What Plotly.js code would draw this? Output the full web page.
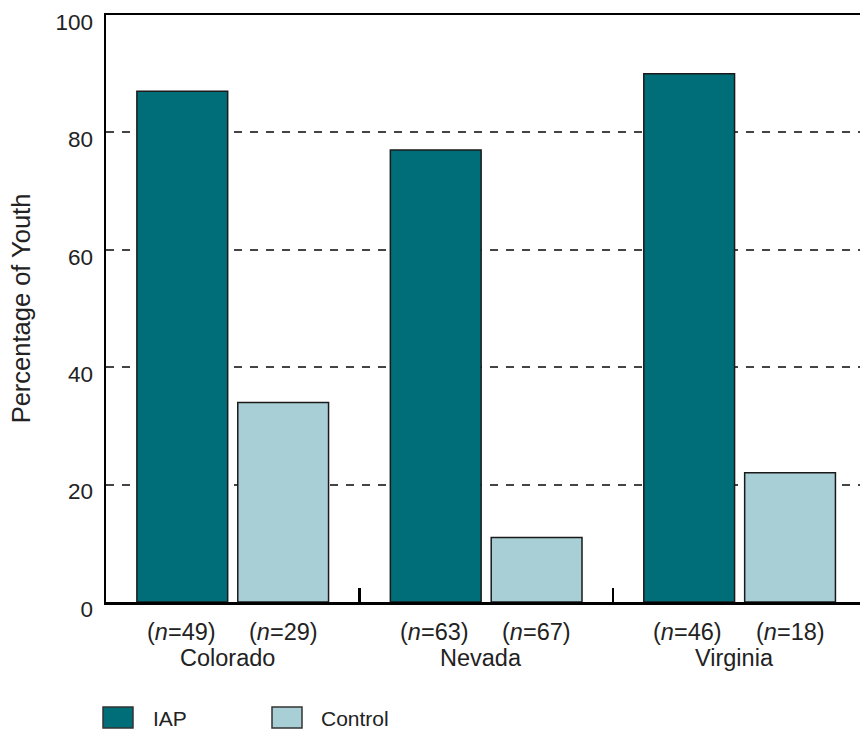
<!DOCTYPE html>
<html>
<head>
<meta charset="utf-8">
<script src="https://cdn.plot.ly/plotly-3.0.1.min.js"></script>
<style>html,body{margin:0;padding:0;background:#fff}#chart{width:860px;height:730px}</style>
</head>
<body>
<div id="chart"></div>
<script>
// ---- data ----
const states = ["Colorado", "Nevada", "Virginia"];
const iapValues = [87, 77, 90];
const controlValues = [34, 11, 22];
const iapN = [49, 63, 46];
const controlN = [29, 67, 18];
const seriesNames = ["IAP", "Control"];
const yTickVals = [0, 20, 40, 60, 80, 100];

// ---- styling / layout ----
const W = 860, H = 730;
const M = {l: 106, r: 0, t: 15, b: 128};
const plotW = W - M.l - M.r, plotH = H - M.t - M.b;
const px2paperX = px => (px - M.l) / plotW;
const px2paperY = py => (H - M.b - py) / plotH;

const FONT = "Liberation Sans, Arial, Helvetica, sans-serif";
const TXT = "#222222";
const IAP_COLOR = "#006e78";
const CTRL_COLOR = "#a9cfd6";

const traces = [
  {type: "bar", name: seriesNames[0], x: states, y: iapValues,
   marker: {color: IAP_COLOR, line: {color: "#1a1a1a", width: 1.5}}, hoverinfo: "x+y"},
  {type: "bar", name: seriesNames[1], x: states, y: controlValues,
   marker: {color: CTRL_COLOR, line: {color: "#1a1a1a", width: 1.5}}, hoverinfo: "x+y"}
];

const LBL = {family: FONT, size: 23.5, color: TXT};
const annotations = [];
states.forEach((s, i) => {
  annotations.push({xref: "x", yref: "paper", x: i - 0.2, y: 0, yshift: -30, xshift: -1, yanchor: "middle",
    text: "(<i>n</i>=" + iapN[i] + ")", showarrow: false, font: LBL});
  annotations.push({xref: "x", yref: "paper", x: i + 0.2, y: 0, yshift: -30, yanchor: "middle",
    text: "(<i>n</i>=" + controlN[i] + ")", showarrow: false, font: LBL});
  annotations.push({xref: "x", yref: "paper", x: i, y: 0, yshift: -56, xshift: -5, yanchor: "middle",
    text: s, showarrow: false, font: LBL});
});

// manual legend
const legendItems = [
  {name: seriesNames[0], color: IAP_COLOR, x0: 103, textX: 151},
  {name: seriesNames[1], color: CTRL_COLOR, x0: 272, textX: 319}
];
const shapes = [];
legendItems.forEach(it => {
  shapes.push({type: "rect", xref: "paper", yref: "paper",
    x0: px2paperX(it.x0), x1: px2paperX(it.x0 + 30), y0: px2paperY(728), y1: px2paperY(707),
    fillcolor: it.color, line: {color: "#333333", width: 1.5}});
  annotations.push({xref: "paper", yref: "paper", x: px2paperX(it.textX), y: px2paperY(718),
    xanchor: "left", yanchor: "middle", text: it.name, showarrow: false,
    font: {family: FONT, size: 21, color: TXT}});
});

const layout = {
  width: W, height: H,
  margin: M,
  paper_bgcolor: "#ffffff", plot_bgcolor: "#ffffff",
  font: {family: FONT, size: 22, color: TXT},
  showlegend: false,
  barmode: "group", bargap: 0.204, bargroupgap: 0.1,
  xaxis: {
    type: "category", range: [-0.5, 2.475],
    showline: true, linecolor: "#000", linewidth: 2.5, mirror: true,
    ticks: "inside", tickson: "boundaries", ticklen: 14, tickwidth: 2.5, tickcolor: "#000",
    showticklabels: false, showgrid: false, zeroline: false, fixedrange: true
  },
  yaxis: {
    range: [0, 100], tickvals: yTickVals, ticktext: yTickVals.map(String),
    showline: true, linecolor: "#000", linewidth: 2.5, mirror: false,
    ticks: "", ticklabelstandoff: 6, ticklabelshift: 7,
    tickfont: {family: FONT, size: 22.5, color: TXT},
    showgrid: true, gridcolor: "#444444", gridwidth: 2, griddash: "8px,8px",
    zeroline: false, fixedrange: true,
    title: {text: "Percentage of Youth", font: {family: FONT, size: 25.5, color: TXT}, standoff: 18}
  },
  annotations: annotations,
  shapes: shapes
};

Plotly.newPlot("chart", traces, layout, {displayModeBar: false, staticPlot: true});
</script>
</body>
</html>
